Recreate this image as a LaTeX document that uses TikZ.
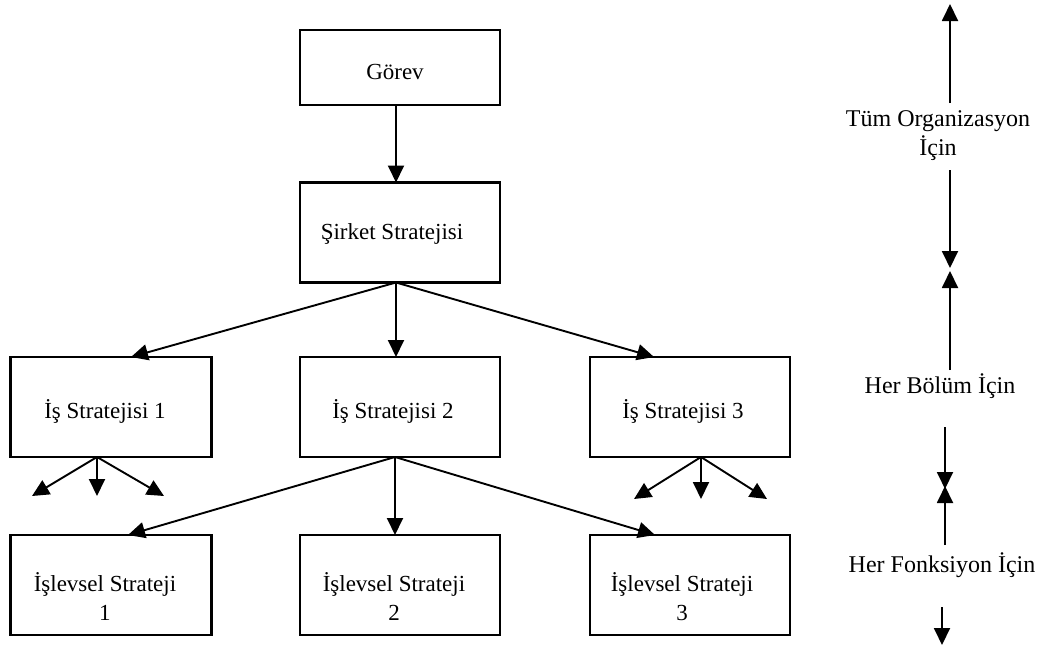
\documentclass[tikz,border=0pt]{standalone}
\usepackage{fontspec}
\setmainfont{Liberation Serif}
\usetikzlibrary{arrows.meta}
\begin{document}
\begin{tikzpicture}[x=1pt,y=-1pt,
  box/.style={draw,line width=2.6pt,minimum width=200pt,minimum height=100pt,inner sep=0pt,outer sep=0pt},
  txt/.style={font=\fontsize{23}{29}\selectfont,align=center,inner sep=0pt},
  arr/.style={line width=1.9pt,-{Triangle[length=17pt,width=16pt]}},
  lbl/.style={font=\fontsize{24}{29}\selectfont,align=center,inner sep=0pt}]
\useasboundingbox (0,0) rectangle (1049,645);
% boxes
\node[box,minimum height=75pt] (gorev) at (400,67.5) {};
\node[txt] (tgorev) at (395,72) {Görev};
\node[box] (sirket) at (400,232.5) {};
\node[txt] (tsirket) at (392,234) {Şirket Stratejisi};
\node[box,minimum width=201pt] (is1) at (111,407) {};
\node[txt] (tis1) at (105,411) {İş Stratejisi 1};
\node[box] (is2) at (400,407) {};
\node[txt] (tis2) at (393,411) {İş Stratejisi 2};
\node[box] (is3) at (690,407) {};
\node[txt] (tis3) at (683,411) {İş Stratejisi 3};
\node[box,minimum width=201pt] (isl1) at (111,585) {};
\node[txt] (tisl1) at (105,597) {İşlevsel Strateji\\1};
\node[box] (isl2) at (400,585) {};
\node[txt] (tisl2) at (394,597) {İşlevsel Strateji\\2};
\node[box] (isl3) at (690,585) {};
\node[txt] (tisl3) at (682,597) {İşlevsel Strateji\\3};
% main arrows
\draw[arr] ([xshift=-4pt]gorev.south) -- ([xshift=-4pt]sirket.north);
\coordinate (sfan) at ([xshift=-4pt]sirket.south);
\draw[arr] (sfan) -- ([xshift=20pt]is1.north);
\draw[arr] (sfan) -- ([xshift=-4pt]is2.north);
\draw[arr] (sfan) -- ([xshift=-36pt]is3.north);
\coordinate (ifan) at ([xshift=-5pt]is2.south);
\draw[arr] (ifan) -- ([xshift=17pt]isl1.north);
\draw[arr] (ifan) -- ([xshift=-5pt]isl2.north);
\draw[arr] (ifan) -- ([xshift=-35pt]isl3.north);
% small fans
\coordinate (f1) at (97,457);
\coordinate (f1a) at (32,496);
\coordinate (f1b) at (97,496);
\coordinate (f1c) at (164,496);
\draw[arr] (f1) -- (f1a);
\draw[arr] (f1) -- (f1b);
\draw[arr] (f1) -- (f1c);
\coordinate (f3) at (701,457);
\coordinate (f3a) at (634,499);
\coordinate (f3b) at (701,499);
\coordinate (f3c) at (767,499);
\draw[arr] (f3) -- (f3a);
\draw[arr] (f3) -- (f3b);
\draw[arr] (f3) -- (f3c);
% right column
\node[lbl] (t1) at (938,136) {Tüm Organizasyon\\İçin};
\node[lbl] (t2) at (940,386) {Her Bölüm İçin};
\node[lbl] (t3) at (942,565) {Her Fonksiyon İçin};
\coordinate (r1a) at (950,103);
\coordinate (r1b) at (950,4);
\coordinate (r2a) at (950,170);
\coordinate (r2b) at (950,268);
\coordinate (r3a) at (950,370);
\coordinate (r3b) at (950,271);
\coordinate (r4a) at (945,427);
\coordinate (r4b) at (945,489);
\coordinate (r5a) at (945,545);
\coordinate (r5b) at (945,486);
\coordinate (r6a) at (942,607);
\coordinate (r6b) at (942,645);
\draw[arr] (r1a) -- (r1b);
\draw[arr] (r2a) -- (r2b);
\draw[arr] (r3a) -- (r3b);
\draw[arr] (r4a) -- (r4b);
\draw[arr] (r5a) -- (r5b);
\draw[arr] (r6a) -- (r6b);
\end{tikzpicture}
\end{document}
